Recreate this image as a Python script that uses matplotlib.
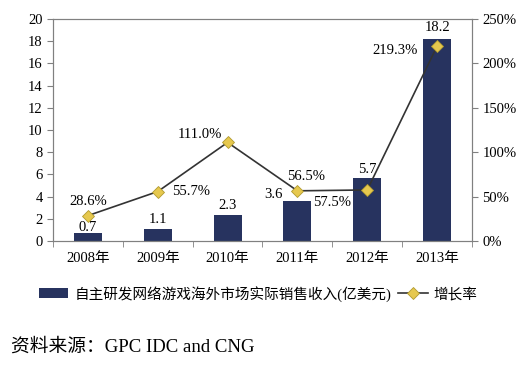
import matplotlib.pyplot as plt
import numpy as np
from matplotlib.ticker import FuncFormatter

plt.rcParams['font.family'] = ['Liberation Serif', 'Noto Sans CJK SC']

years = ['2008年', '2009年', '2010年', '2011年', '2012年', '2013年']
revenue = [0.7, 1.1, 2.3, 3.6, 5.7, 18.2]
growth = [28.6, 55.7, 111.0, 56.5, 57.5, 219.3]
rev_labels = ['0.7', '1.1', '2.3', '3.6', '5.7', '18.2']
growth_labels = ['28.6%', '55.7%', '111.0%', '56.5%', '57.5%', '219.3%']

bar_color = '#27335f'
gray = '#808080'

fig = plt.figure(figsize=(5.27, 3.67), dpi=100)
ax = fig.add_axes([0.1006, 0.3433, 0.795, 0.605])
x = np.arange(len(years))

ax.bar(x, revenue, width=0.4, color=bar_color, label='自主研发网络游戏海外市场实际销售收入(亿美元)', zorder=2)
ax.set_ylim(0, 20)
ax.set_yticks(range(0, 21, 2))
ax.set_xlim(-0.5, 5.5)
ax.set_xticks(x)
ax.set_xticklabels(years)
ax.set_xticks(np.arange(-0.5, 6, 1), minor=True)
ax.tick_params(axis='x', which='major', length=0, labelsize=10.5, pad=8)
ax.tick_params(axis='x', which='minor', length=4, color=gray, direction='out')
ax.tick_params(axis='y', labelsize=10.5, length=4, color=gray)
for s in ax.spines.values():
    s.set_color(gray)

ax2 = ax.twinx()
ax2.plot(x, growth, color='#333333', lw=1.2, marker='D', markersize=6,
         markerfacecolor='#e6c84e', markeredgecolor='#b09a30', markeredgewidth=0.6,
         label='增长率', zorder=3)
ax2.set_ylim(0, 250)
ax2.set_yticks(range(0, 251, 50))
ax2.yaxis.set_major_formatter(FuncFormatter(lambda v, p: f'{int(v)}%'))
ax2.tick_params(axis='y', labelsize=10.5, length=4, color=gray)
for s in ax2.spines.values():
    s.set_color(gray)

# bar value labels (offsets in points, relative to bar top centre)
bar_off = [(0, 4), (0, 7), (0, 7), (-11, 4.5), (0, 6), (0, 8)]
bar_ha = ['center', 'center', 'center', 'right', 'center', 'center']
for i, v in enumerate(revenue):
    dx, dy = bar_off[i]
    ax.annotate(rev_labels[i], (x[i], v), xytext=(dx, dy),
                textcoords='offset points', ha=bar_ha[i], va='center', fontsize=10.5)

# growth labels
g_off = [(0, 10), (10, 0), (-4, 6), (6, 10), (-25, -9), (-14, -3)]
g_ha = ['center', 'left', 'right', 'center', 'center', 'right']
for i, v in enumerate(growth):
    dx, dy = g_off[i]
    ax2.annotate(growth_labels[i], (x[i], v), xytext=(dx, dy), textcoords='offset points',
                 ha=g_ha[i], va='center', fontsize=10.5)

h1, l1 = ax.get_legend_handles_labels()
h2, l2 = ax2.get_legend_handles_labels()
fig.legend(h1 + h2, l1 + l2, loc='center', bbox_to_anchor=(0.49, 0.2), ncol=2, frameon=False,
           fontsize=10.5, handlelength=2.0, handletextpad=0.4, columnspacing=0.5)

fig.text(0.02, 0.055, '资料来源：GPC IDC and CNG', fontsize=13.5, ha='left', va='center')

fig.savefig('out.png', dpi=100)
